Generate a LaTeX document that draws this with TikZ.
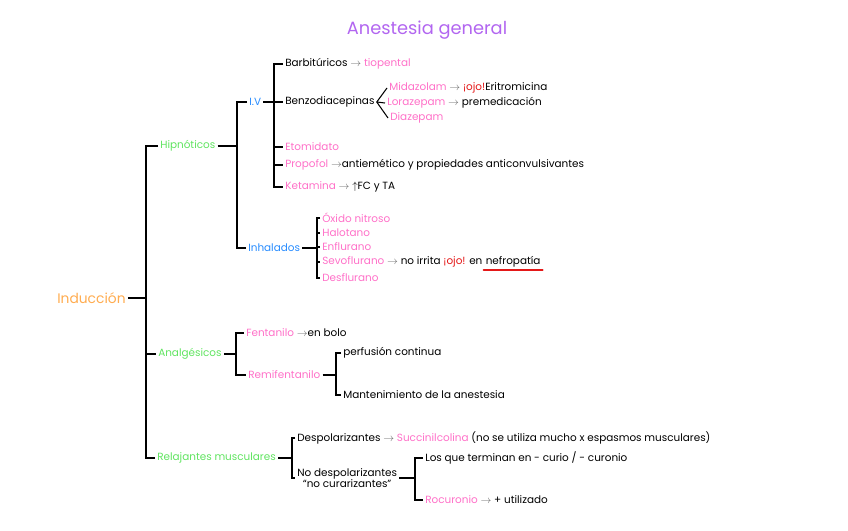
\documentclass[tikz,border=0pt]{standalone}
\usepackage{fontspec}
\setmainfont{Poppins}
\usetikzlibrary{positioning}
\definecolor{titulo}{RGB}{178,102,240}
\definecolor{naranja}{RGB}{255,172,80}
\definecolor{verde}{RGB}{96,228,96}
\definecolor{azul}{RGB}{40,140,255}
\definecolor{rosa}{RGB}{255,112,200}
\definecolor{rojo}{RGB}{228,24,24}
\newcommand{\flecha}{\textcolor{black!55}{$\rightarrow$}}
\begin{document}
\begin{tikzpicture}[x=0.03cm, y=-0.03cm, line width=0.9pt, every node/.style={anchor=west, inner sep=1.5pt, font=\fontsize{8.9}{10}\selectfont}]
		% \draw[help lines] (0,0) grid (848,530);
		\useasboundingbox (0,0) rectangle (848,530);

		\node[anchor=center, text=titulo, font=\fontsize{15.2}{17}\selectfont] (title) at (427,30) {Anestesia general};

		% nivel 1
		\node[text=naranja, font=\fontsize{11.8}{13}\selectfont] (ind) at (55,298) {Inducción};
		\node[text=verde] (hip) at (158,146) {Hipnóticos};
		\node[text=verde] (anal) at (156,354) {Analgésicos};
		\node[text=verde] (rel) at (155,458) {Relajantes musculares};
		\coordinate (indb) at (146,298);
		\draw (ind.east) -- (indb);
		\draw (hip.west) -| (indb) |- (rel.west);
		\draw (indb |- anal) -- (anal.west);

		% hipnoticos
		\node[text=azul] (iv) at (247,102) {I.V};
		\node[text=azul] (inh) at (246,248) {Inhalados};
		\coordinate (hipb) at (237,146);
		\draw (hip.east) -- (hipb);
		\draw (iv.west) -| (hipb) |- (inh.west);

		% intravenosos
		\node (barb) at (283,64) {Barbitúricos \flecha{} \textcolor{rosa}{tiopental}};
		\node (benzo) at (283,102) {Benzodiacepinas};
		\node[text=rosa] (eto) at (283,147) {Etomidato};
		\node (prop) at (283,165) {\textcolor{rosa}{Propofol} \flecha antiemético y propiedades anticonvulsivantes};
		\node (keta) at (283,187) {\textcolor{rosa}{Ketamina} \flecha{} $\uparrow$FC y TA};
		\coordinate (ivb) at (274,102);
		\draw (iv.east) -- (ivb) -- (benzo.west);
		\draw (barb.west) -| (ivb) |- (keta.west);
		\draw (ivb |- eto) -- (eto.west);
		\draw (ivb |- prop) -- (prop.west);

		\node (mida) at (387,88) {\textcolor{rosa}{Midazolam} \flecha{} \textcolor{rojo}{¡ojo!}Eritromicina};
		\node (lora) at (385,103) {\textcolor{rosa}{Lorazepam} \flecha{} premedicación};
		\node[text=rosa] (diaz) at (388,118) {Diazepam};
		\draw (benzo.east) -- (mida.west);
		\draw (benzo.east) -- (lora.west);
		\draw (benzo.east) -- (diaz.west);

		% inhalados
		\node[text=rosa] (oxi) at (320,218) {Óxido nitroso};
		\node[text=rosa] (halo) at (320,233) {Halotano};
		\node[text=rosa] (enflu) at (320,247) {Enflurano};
		\node (sevo) at (320,262) {\textcolor{rosa}{Sevoflurano} \flecha{} no irrita \textcolor{rojo}{¡ojo!} en};
		\node[right=-1pt of sevo] (nefro) {nefropatía};
		\node[text=rosa] (desflu) at (320,278) {Desflurano};
		\coordinate (inhb) at (317,248);
		\draw (inh.east) -- (inhb);
		\draw (oxi.west) -| (inhb) |- (desflu.west);
		\draw (inhb |- halo) -- (halo.west);
		\draw (inhb |- enflu) -- (enflu.west);
		\draw (inhb |- sevo) -- (sevo.west);
		\draw[rojo, line width=1.6pt, line cap=round] (nefro.south west) -- (nefro.south east);

		% analgesicos
		\node (fent) at (244,333) {\textcolor{rosa}{Fentanilo} \flecha en bolo};
		\node[text=rosa] (remi) at (246,375) {Remifentanilo};
		\coordinate (analb) at (236,354);
		\draw (anal.east) -- (analb);
		\draw (fent.west) -| (analb) |- (remi.west);

		\node (perf) at (341,353) {perfusión continua};
		\node (mant) at (341,395) {Mantenimiento de la anestesia};
		\coordinate (remib) at (336,375);
		\draw (remi.east) -- (remib);
		\draw (perf.west) -| (remib) |- (mant.west);

		% relajantes
		\node (desp) at (295,438) {Despolarizantes \flecha{} \textcolor{rosa}{Succinilcolina} (no se utiliza mucho x espasmos musculares)};
		\node[align=center] (nodesp) at (295,478) {No despolarizantes\\``no curarizantes''};
		\coordinate (relb) at (292,458);
		\draw (rel.east) -- (relb);
		\draw (desp.west) -| (relb) |- (nodesp.west);

		\node (term) at (423,458) {Los que terminan en - curio / - curonio};
		\node (rocu) at (423,500) {\textcolor{rosa}{Rocuronio} \flecha{} + utilizado};
		\coordinate (nodespb) at (415,478);
		\draw (nodesp.east) -- (nodespb);
		\draw (term.west) -| (nodespb) |- (rocu.west);
	\end{tikzpicture}
\end{document}
